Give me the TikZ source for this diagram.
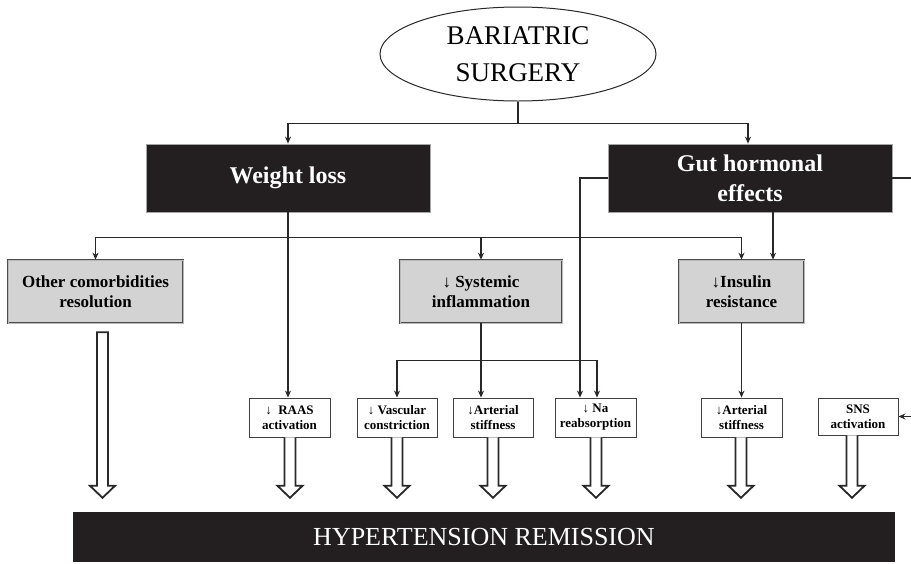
\documentclass[tikz,border=0pt]{standalone}
\usepackage{fontspec}
\setmainfont{Liberation Serif}
\usetikzlibrary{shapes.geometric,calc,arrows.meta}
\definecolor{boxblack}{RGB}{35,31,32}
\definecolor{boxgray}{RGB}{211,211,211}
\definecolor{inkc}{RGB}{40,40,40}
\newcommand\harrow[2]{%
  \draw[hollow] let \p1=($(#1.south)+(#2,0)$), \p2=(bar.north) in
    (\x1-5.5pt,\y1) -- (\x1-5.5pt,\y2+26pt) -- (\x1-12.5pt,\y2+26pt) -- (\x1,\y2+14pt)
    -- (\x1+12.5pt,\y2+26pt) -- (\x1+5.5pt,\y2+26pt) -- (\x1+5.5pt,\y1);}
\begin{document}
\begin{tikzpicture}[x=1pt,y=-1pt,
  arr/.style={draw=inkc, line width=1.2pt, -{Stealth[length=7pt,width=6pt]}},
  plain/.style={draw=inkc, line width=1.2pt},
  hollow/.style={draw=inkc, line width=1.8pt, fill=white, line join=miter},
  blackbox/.style={rectangle, fill=boxblack, draw=gray!70, line width=0.8pt, text=white,
    align=center, inner sep=0, font=\fontsize{24}{30}\selectfont\bfseries},
  graybox/.style={rectangle, fill=boxgray, draw=black!70, double=gray!55, double distance=0.9pt,
    line width=0.6pt, align=center, inner sep=0, minimum height=63,
    font=\fontsize{17}{20}\selectfont\bfseries},
  smallbox/.style={rectangle, fill=white, draw=black!75, line width=0.9pt, align=center,
    inner sep=0, minimum height=39, minimum width=80, font=\fontsize{13}{15}\selectfont\bfseries}
]
\useasboundingbox (0,0) rectangle (911,563);

% top ellipse
\node[ellipse, draw=inkc, line width=1pt, minimum width=276, minimum height=94, inner sep=0,
      align=center, font=\fontsize{27}{37}\selectfont] (bs) at (518,54) {BARIATRIC\\SURGERY};

% black boxes
\node[blackbox, minimum width=284, minimum height=68] (wl) at (288,178) {Weight loss};
\node[blackbox, minimum width=284, minimum height=68] (gut) at (750,178) {Gut hormonal\\effects};

% gray boxes
\node[graybox, minimum width=175] (other) at (95.5,291.5) {Other comorbidities\\resolution};
\node[graybox, minimum width=162] (sys) at (481,291.5) {↓ Systemic\\inflammation};
\node[graybox, minimum width=125] (ins) at (741.5,291.5) {↓Insulin\\resistance};

% small boxes
\node[smallbox, minimum width=81] (raas) at (289.5,417.5) {↓\ \ RAAS\\activation};
\node[smallbox] (vasc) at (397,417.5) {↓ Vascular\\constriction};
\node[smallbox] (art1) at (493,417.5) {↓Arterial\\stiffness};
\node[smallbox, minimum width=81] (na) at (595.5,417.5) {↓ Na\\reabsorption};
\node[smallbox, minimum width=81] (art2) at (741.5,417.5) {↓Arterial\\stiffness};
\node[smallbox, minimum height=37] (sns) at (858,416.5) {SNS\\activation};

% bottom bar
\node[rectangle, fill=boxblack, minimum width=822, minimum height=50, inner sep=0, text=white,
      font=\fontsize{26}{30}\selectfont] (bar) at (484,537) {HYPERTENSION REMISSION};

% connectors from bariatric surgery
\draw[plain] (bs.south) -- ++(0,22) coordinate (top);
\draw[arr] (top) -| (wl.north);
\draw[arr] (top) -| ($(gut.north)+(-2,0)$);

% weight loss
\draw[arr] (wl.south) -- (wl.south |- raas.north);
\draw[arr] (wl.south) -- ++(0,25) -| (other.north);
\draw[arr] (wl.south) -- ++(0,25) -| (sys.north);
\draw[arr] (wl.south) -- ++(0,25) -| (ins.north);

% gut hormonal effects
\draw[arr] (gut.west) -| ($(na.north)+(-15.5,0)$);
\draw[arr] ($(gut.south)+(23,0)$) -- ($(ins.north)+(31.5,0)$);
\coordinate (edgeA) at (911,178);
\coordinate (edgeB) at (911,416.5);
\draw[plain] (gut.east) -- (edgeA);
\draw[arr] (edgeB) -- (sns.east);

% systemic inflammation
\draw[arr] (sys.south) -- (sys.south |- art1.north);
\draw[arr] (sys.south) -- ++(0,37) -| (vasc.north);
\draw[arr] (sys.south) -- ++(0,37) -| ($(na.north)+(1.5,0)$);

% insulin resistance
\draw[arr] (ins.south) -- (art2.north);

% hollow arrows
\draw[hollow] let \p1=($(other.south)+(7,9)$), \p2=(bar.north) in
    (\x1-5.5pt,\y1) -- (\x1-5.5pt,\y2+26pt) -- (\x1-12.5pt,\y2+26pt) -- (\x1,\y2+14pt)
    -- (\x1+12.5pt,\y2+26pt) -- (\x1+5.5pt,\y2+26pt) -- (\x1+5.5pt,\y1) -- cycle;
\harrow{raas}{0.5}
\harrow{vasc}{0}
\harrow{art1}{0}
\harrow{na}{0.5}
\harrow{art2}{-0.5}
\harrow{sns}{-6}
\end{tikzpicture}
\end{document}
